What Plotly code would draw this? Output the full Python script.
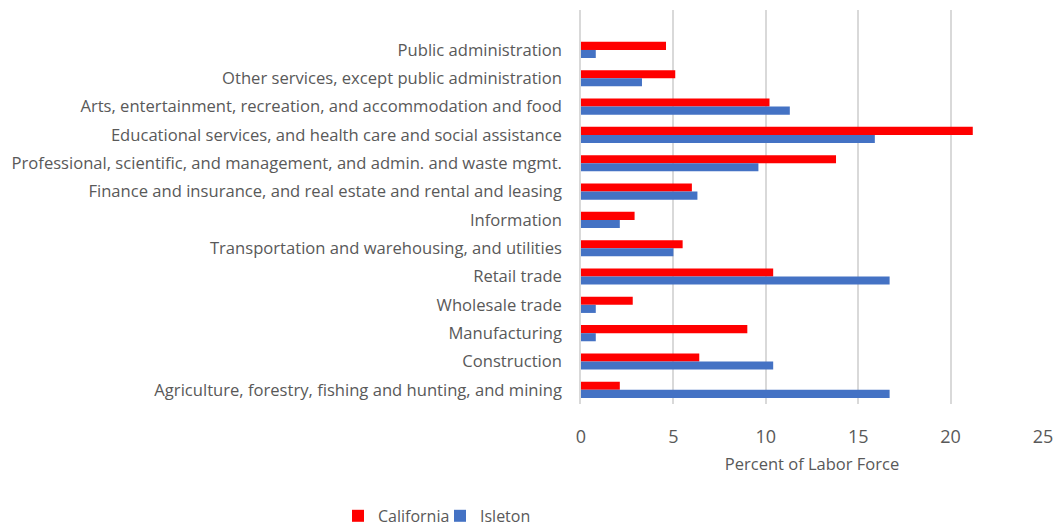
import plotly.graph_objects as go

# Industry categories, listed top to bottom
industries = [
    "Public administration",
    "Other services, except public administration",
    "Arts, entertainment, recreation, and accommodation and food",
    "Educational services, and health care and social assistance",
    "Professional, scientific, and management, and admin. and waste mgmt.",
    "Finance and insurance, and real estate and rental and leasing",
    "Information",
    "Transportation and warehousing, and utilities",
    "Retail trade",
    "Wholesale trade",
    "Manufacturing",
    "Construction",
    "Agriculture, forestry, fishing and hunting, and mining",
]

# Percent of labor force by industry
california = [4.6, 5.1, 10.2, 21.2, 13.8, 6.0, 2.9, 5.5, 10.4, 2.8, 9.0, 6.4, 2.1]
isleton = [0.8, 3.3, 11.3, 15.9, 9.6, 6.3, 2.1, 5.0, 16.7, 0.8, 0.8, 10.4, 16.7]

x_ticks = [0, 5, 10, 15, 20, 25]

FONT = "Open Sans"
GRAY = "#595959"

fig = go.Figure()
fig.add_trace(go.Bar(
    y=industries, x=california, name="California", orientation="h",
    marker=dict(color="#FF0000", line=dict(width=0)), legend="legend",
))
fig.add_trace(go.Bar(
    y=industries, x=isleton, name="Isleton", orientation="h",
    marker=dict(color="#4472C4", line=dict(width=0)), legend="legend2",
))

legend_common = dict(
    orientation="h", yanchor="middle", y=-0.284, xanchor="left",
    font=dict(size=16, color=GRAY), itemwidth=30,
    bgcolor="rgba(0,0,0,0)",
)

fig.update_layout(
    width=1064, height=527,
    margin=dict(l=581, r=21, t=10, b=123, autoexpand=False),
    paper_bgcolor="white", plot_bgcolor="white",
    barmode="group", bargap=0.43, bargroupgap=0,
    font=dict(family=FONT, color=GRAY),
    showlegend=True,
    legend=dict(x=(338 - 581) / 462, **legend_common),
    legend2=dict(x=(440 - 581) / 462, **legend_common),
    xaxis=dict(
        range=[0, 25], tickvals=x_ticks, ticktext=[str(v) for v in x_ticks],
        showgrid=True, gridcolor="#D9D9D9", gridwidth=1.5,
        zeroline=False, showline=False, automargin=False,
        tickfont=dict(size=18, color=GRAY),
        ticks="", ticklabelstandoff=20,
        title=dict(text="Percent of Labor Force", font=dict(size=16.5, color=GRAY), standoff=11),
    ),
    yaxis=dict(
        type="category", categoryorder="array", categoryarray=industries,
        range=[12.5, -1.41], automargin=False,
        showgrid=False, zeroline=False,
        showline=True, linecolor="#D9D9D9", linewidth=1.5,
        ticks="", ticklabelstandoff=14,
        tickfont=dict(size=16.6, color=GRAY),
    ),
)

fig.write_html("out.html")
